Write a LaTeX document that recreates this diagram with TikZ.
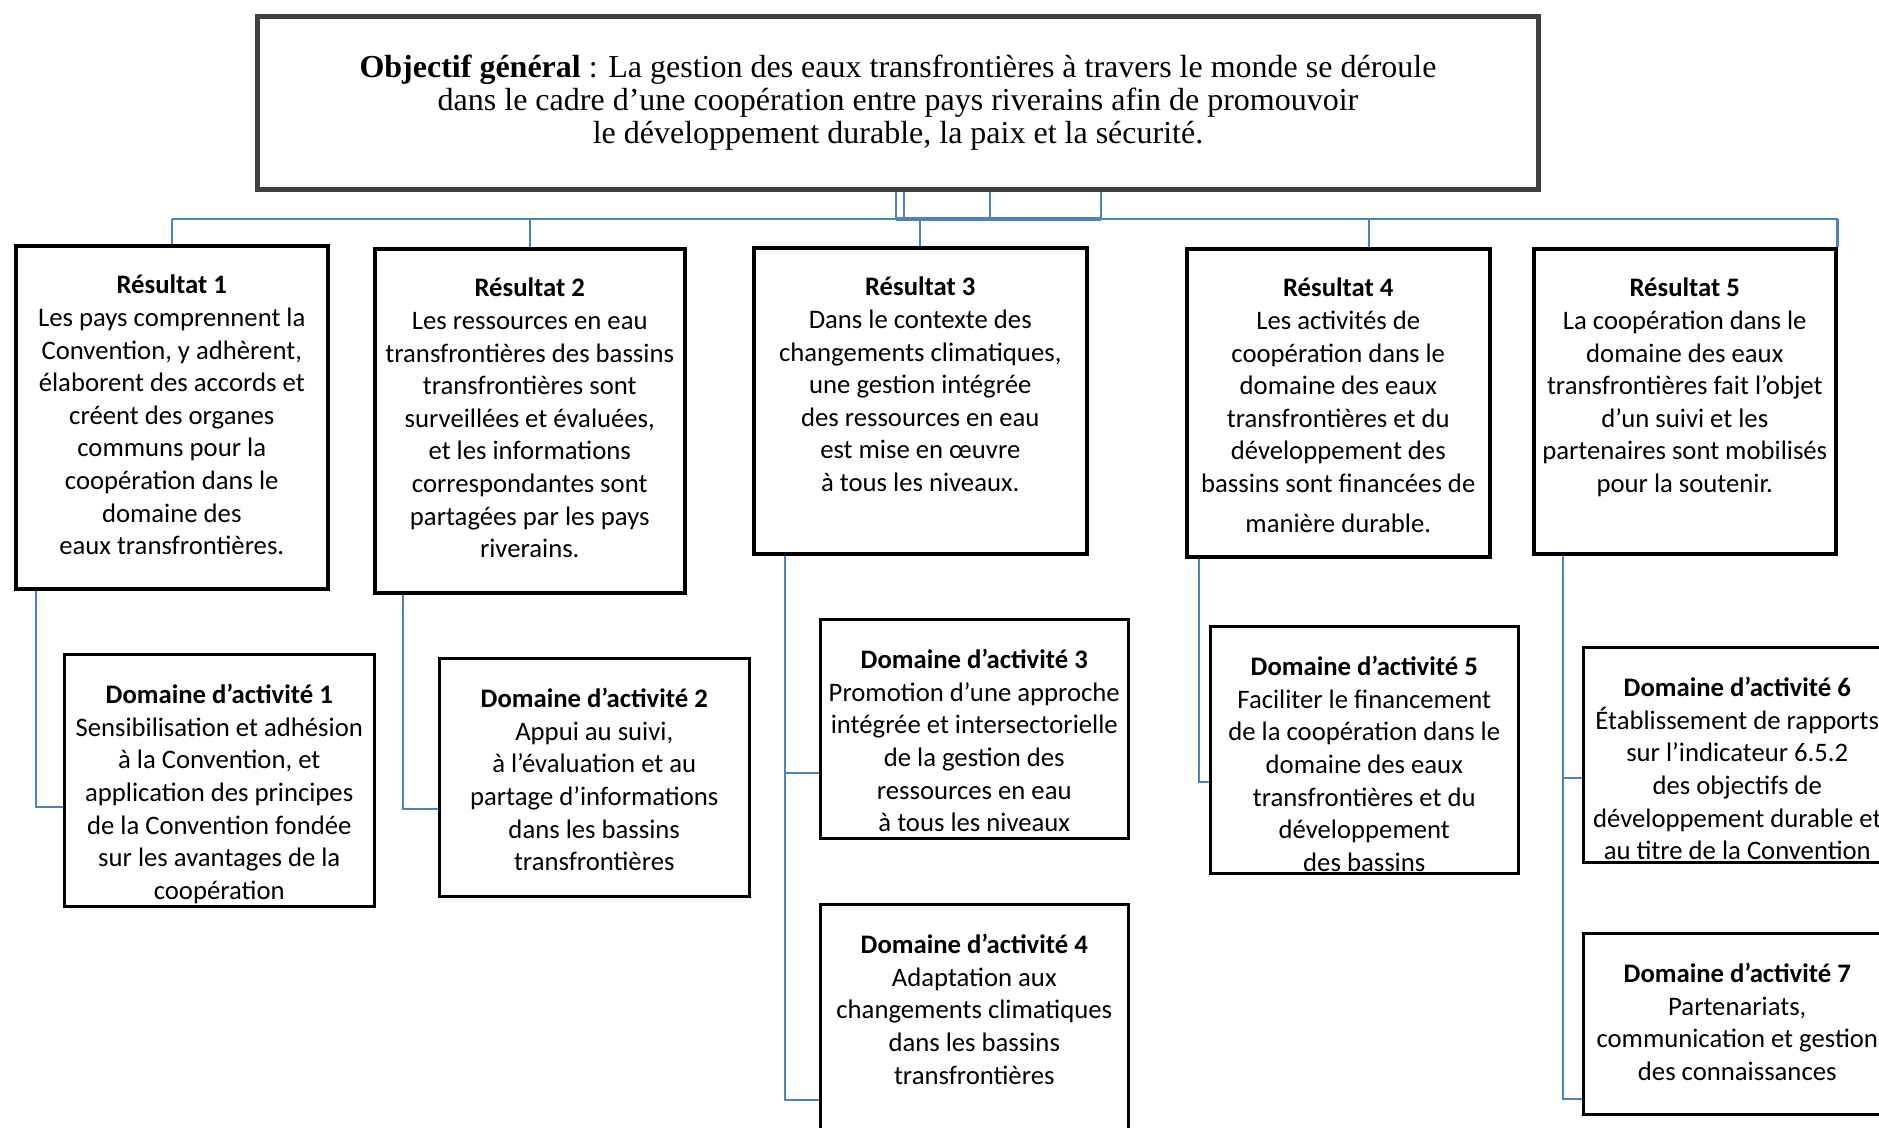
\documentclass[tikz,border=0pt]{standalone}
\usepackage{fontspec}
\setmainfont{Liberation Serif}
\newfontfamily\calibri{Carlito}
\usetikzlibrary{positioning}
\definecolor{lienbleu}{HTML}{4F81BD}
\definecolor{gris}{HTML}{404040}

\begin{document}
\begin{tikzpicture}[x=1pt, y=-1pt,
  objbox/.style={draw=gris, line width=5pt, anchor=north west, inner sep=0pt, align=center,
    font=\fontsize{32}{33}\selectfont},
  resbox/.style={draw=black, line width=3.5pt, anchor=north west, inner sep=0pt},
  actbox/.style={draw=black, line width=2.5pt, anchor=north west, inner sep=0pt},
  boxtext/.style={align=center, inner sep=0pt, font=\calibri\fontsize{26.7}{32.6}\selectfont},
  lien/.style={draw=lienbleu, line width=2.2pt}]
\useasboundingbox (0,0) rectangle (1879,1127);
\clip (0,0) rectangle (1879,1127);

% Objectif
\node[objbox, minimum width=1281, minimum height=173] (obj) at (255,14)
  {\textbf{Objectif général} : La gestion des eaux transfrontières à travers le monde se déroule\\
   dans le cadre d’une coopération entre pays riverains afin de promouvoir\\
   le développement durable, la paix et la sécurité.};

% Résultats
\node[resbox, minimum width=312, minimum height=343] (r1) at (14,244) {};
\node[resbox, minimum width=310, minimum height=344] (r2) at (373,247) {};
\node[resbox, minimum width=333, minimum height=306] (r3) at (752,246) {};
\node[resbox, minimum width=303, minimum height=308] (r4) at (1185,247) {};
\node[resbox, minimum width=302, minimum height=305] (r5) at (1532,247) {};

\node[boxtext, below=31pt of r1.north] (r1t) {\textbf{Résultat 1}\\ Les pays comprennent la\\ Convention, y adhèrent,\\ élaborent des accords et\\ créent des organes\\ communs pour la\\ coopération dans le\\ domaine des\\ eaux transfrontières.};
\node[boxtext, below=31pt of r2.north] (r2t) {\textbf{Résultat 2}\\ Les ressources en eau\\ transfrontières des bassins\\ transfrontières sont\\ surveillées et évaluées,\\ et les informations\\ correspondantes sont\\ partagées par les pays\\ riverains.};
\node[boxtext, below=31pt of r3.north] (r3t) {\textbf{Résultat 3}\\ Dans le contexte des\\ changements climatiques,\\ une gestion intégrée\\ des ressources en eau\\ est mise en œuvre\\ à tous les niveaux.};
\node[boxtext, below=31pt of r4.north] (r4t) {\textbf{Résultat 4}\\ Les activités de\\ coopération dans le\\ domaine des eaux\\ transfrontières et du\\ développement des\\ bassins sont financées de\\[7pt] manière durable.};
\node[boxtext, below=31pt of r5.north] (r5t) {\textbf{Résultat 5}\\ La coopération dans le\\ domaine des eaux\\ transfrontières fait l’objet\\ d’un suivi et les\\ partenaires sont mobilisés\\ pour la soutenir.};

% Domaines d'activité
\node[actbox, minimum width=310, minimum height=252] (d1) at (63,653) {};
\node[actbox, minimum width=310, minimum height=238] (d2) at (438,657) {};
\node[actbox, minimum width=308, minimum height=219] (d3) at (819,618) {};
\node[actbox, minimum width=308, minimum height=260] (d4) at (819,903) {};
\node[actbox, minimum width=308, minimum height=247] (d5) at (1209,625) {};
\node[actbox, minimum width=308, minimum height=215] (d6) at (1582,646) {};
\node[actbox, minimum width=308, minimum height=181] (d7) at (1582,932) {};

\node[boxtext, below=31pt of d1.north] (d1t) {\textbf{Domaine d’activité 1}\\ Sensibilisation et adhésion\\ à la Convention, et\\ application des principes\\ de la Convention fondée\\ sur les avantages de la\\ coopération};
\node[boxtext, below=31pt of d2.north] (d2t) {\textbf{Domaine d’activité 2}\\ Appui au suivi,\\ à l’évaluation et au\\ partage d’informations\\ dans les bassins\\ transfrontières};
\node[boxtext, below=31pt of d3.north] (d3t) {\textbf{Domaine d’activité 3}\\ Promotion d’une approche\\ intégrée et intersectorielle\\ de la gestion des\\ ressources en eau\\ à tous les niveaux};
\node[boxtext, below=31pt of d4.north] (d4t) {\textbf{Domaine d’activité 4}\\ Adaptation aux\\ changements climatiques\\ dans les bassins\\ transfrontières};
\node[boxtext, below=31pt of d5.north] (d5t) {\textbf{Domaine d’activité 5}\\ Faciliter le financement\\ de la coopération dans le\\ domaine des eaux\\ transfrontières et du\\ développement\\ des bassins};
\node[boxtext, below=31pt of d6.north] (d6t) {\textbf{Domaine d’activité 6}\\ Établissement de rapports\\ sur l’indicateur 6.5.2\\ des objectifs de\\ développement durable et\\ au titre de la Convention};
\node[boxtext, below=31pt of d7.north] (d7t) {\textbf{Domaine d’activité 7}\\ Partenariats,\\ communication et gestion\\ des connaissances};

% Verbindungen oben
\coordinate (bus) at (0,219);
\foreach \dx [count=\i] in {896,904,990,1101} {
  \coordinate (haut\i) at (\dx,0);
  \draw[lien] (obj.south -| haut\i) -- (bus -| haut\i);
}
\draw[lien] (r1.north |- bus) -- (r5.north east |- bus);
\draw[lien, line width=3.5pt] (bus -| haut1) -- (bus -| haut4);
\draw[lien] (bus -| r1.north) -- (r1.north);
\draw[lien] (bus -| r2.north) -- (r2.north);
\draw[lien] (bus -| r3.north) -- (r3.north);
\draw[lien] ([xshift=31pt]r4.north) -- ++(0,-28);
\draw[lien] (bus -| r5.north east) -- (r5.north east);

% Verbindungen unten
\draw[lien] ([xshift=22pt]r1.south west) |- ([yshift=-154pt]d1.north west);
\draw[lien] ([xshift=30pt]r2.south west) |- ([yshift=-152pt]d2.north west);
\draw[lien] ([xshift=33pt]r3.south west) |- ([yshift=-155pt]d3.north west);
\draw[lien] ([xshift=33pt]r3.south west) |- ([yshift=-197pt]d4.north west);
\draw[lien] ([xshift=14pt]r4.south west) |- ([yshift=-157pt]d5.north west);
\draw[lien] ([xshift=31pt]r5.south west) |- ([yshift=-132pt]d6.north west);
\draw[lien] ([xshift=31pt]r5.south west) |- ([yshift=-167pt]d7.north west);
\end{tikzpicture}
\end{document}
